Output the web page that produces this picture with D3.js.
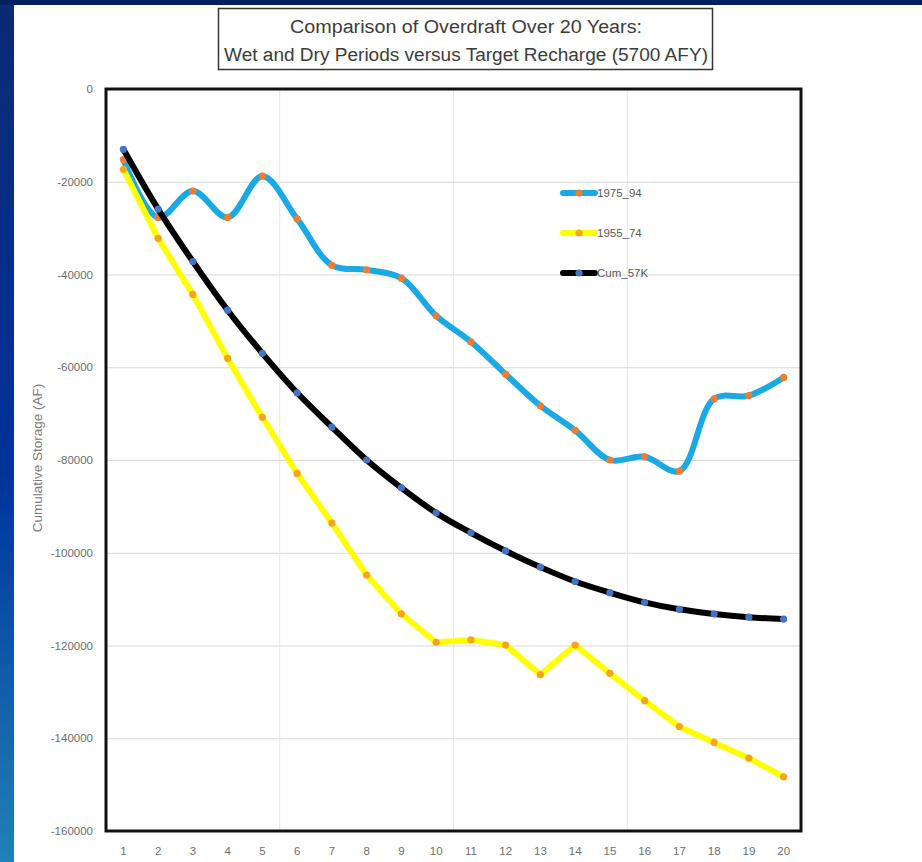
<!DOCTYPE html>
<html>
<head>
<meta charset="utf-8">
<script src="https://cdn.jsdelivr.net/npm/d3@7"></script>
<style>
  html, body { margin: 0; padding: 0; background: #ffffff; }
  svg { display: block; }
</style>
</head>
<body>
<svg id="chart" width="922" height="862"></svg>
<script>
// Years of the 20-year simulation (category axis)
const years = ["1","2","3","4","5","6","7","8","9","10","11","12","13","14","15","16","17","18","19","20"];

// Cumulative storage (AF) per year for each scenario
const wet1975_94 = [-15200, -27700, -22000, -27700, -18800, -28000, -38000, -39000, -40800, -48900,
                    -54500, -61500, -68300, -73600, -80000, -79300, -82400, -66800, -66100, -62200];
const dry1955_74 = [-17300, -32200, -44300, -58100, -70800, -82900, -93600, -104800, -113200, -119300,
                    -118800, -119900, -126300, -119900, -126000, -131900, -137500, -140900, -144300, -148300];
const cum57K     = [-13000, -25900, -37200, -47700, -57000, -65500, -72900, -80000, -86000, -91400,
                    -95700, -99600, -103100, -106200, -108600, -110700, -112200, -113200, -113900, -114300];

const seriesNames = ["1975_94", "1955_74", "Cum_57K"];
const yTicks = [0, -20000, -40000, -60000, -80000, -100000, -120000, -140000, -160000];
const xGridYears = ["6", "11", "16"];

const titleLines = ["Comparison of Overdraft Over 20 Years:",
                    "Wet and Dry Periods versus Target Recharge (5700 AFY)"];
const yTitle = "Cumulative Storage (AF)";

const series = [
  { name: seriesNames[0], values: wet1975_94, line: "#1aa9e4", marker: "#ed7d31", curve: d3.curveCatmullRom.alpha(0.5) },
  { name: seriesNames[1], values: dry1955_74, line: "#ffff00", marker: "#f4a51c", curve: d3.curveLinear },
  { name: seriesNames[2], values: cum57K,     line: "#000000", marker: "#4472c4", curve: d3.curveCatmullRom.alpha(0.5) }
];

const svg = d3.select("#chart");
const W = 922, H = 862;
const plot = { left: 106, right: 801, top: 89, bottom: 831 };
const FONT = "'Liberation Sans', Arial, sans-serif";

// Slide background: navy header band and blue gradient strip on the left
const defs = svg.append("defs");
const grad = defs.append("linearGradient").attr("id", "sideGrad")
  .attr("x1", 0).attr("y1", 0).attr("x2", 0).attr("y2", 1);
grad.append("stop").attr("offset", "0%").attr("stop-color", "#0b2a74");
grad.append("stop").attr("offset", "55%").attr("stop-color", "#00329c");
grad.append("stop").attr("offset", "100%").attr("stop-color", "#1f82b8");

svg.append("rect").attr("x", 0).attr("y", 0).attr("width", W).attr("height", H).attr("fill", "#ffffff");
svg.append("rect").attr("x", 0).attr("y", 0).attr("width", 14).attr("height", H).attr("fill", "url(#sideGrad)");
svg.append("rect").attr("x", 0).attr("y", 0).attr("width", W).attr("height", 5).attr("fill", "#032060");

// Scales
const x = d3.scaleBand().domain(years).range([plot.left, plot.right]).paddingInner(0).paddingOuter(0);
const cx = d => x(d) + x.bandwidth() / 2;
const y = d3.scaleLinear().domain([-160000, 0]).range([plot.bottom, plot.top]);

// Horizontal gridlines
svg.append("g")
  .attr("transform", `translate(${plot.left},0)`)
  .call(d3.axisLeft(y).tickValues(yTicks).tickSize(-(plot.right - plot.left)).tickFormat(""))
  .call(g => g.select(".domain").remove())
  .call(g => g.selectAll("line").attr("stroke", "#d9d9d9").attr("stroke-width", 1));

// Vertical gridlines every five years
svg.append("g").selectAll("line").data(xGridYears).join("line")
  .attr("x1", d => x(d)).attr("x2", d => x(d))
  .attr("y1", plot.top).attr("y2", plot.bottom)
  .attr("stroke", "#e6e6e6").attr("stroke-width", 1);

// Y tick labels (plain hyphen for negatives)
svg.append("g")
  .attr("transform", `translate(${plot.left - 13},0)`)
  .call(d3.axisLeft(y).tickValues(yTicks).tickSize(0).tickPadding(0).tickFormat(d => String(d)))
  .call(g => g.select(".domain").remove())
  .call(g => g.selectAll("text")
    .attr("fill", "#6e6e6e")
    .attr("font-family", FONT)
    .attr("font-size", 11.5));

// X tick labels
svg.append("g")
  .attr("transform", `translate(0,${plot.bottom + 16})`)
  .call(d3.axisBottom(x).tickSize(0).tickPadding(0))
  .call(g => g.select(".domain").remove())
  .call(g => g.selectAll("text")
    .attr("fill", "#6e6e6e")
    .attr("font-family", FONT)
    .attr("font-size", 11.5));

// Y axis title
svg.append("text")
  .attr("transform", `translate(42,${(plot.top + plot.bottom) / 2 - 2}) rotate(-90)`)
  .attr("text-anchor", "middle")
  .attr("fill", "#7a7a7a")
  .attr("font-family", FONT)
  .attr("font-size", 13.5)
  .text(yTitle);

// Series lines and markers
const lineGen = s => d3.line()
  .x((v, i) => cx(years[i]))
  .y(v => y(v))
  .curve(s.curve);

const gSeries = svg.append("g");
series.forEach(s => {
  gSeries.append("path")
    .attr("d", lineGen(s)(s.values))
    .attr("fill", "none")
    .attr("stroke", s.line)
    .attr("stroke-width", 6)
    .attr("stroke-linejoin", "round")
    .attr("stroke-linecap", "round");
  gSeries.append("g").selectAll("circle").data(s.values).join("circle")
    .attr("cx", (v, i) => cx(years[i]))
    .attr("cy", v => y(v))
    .attr("r", 3.6)
    .attr("fill", s.marker);
});

// Plot frame
svg.append("rect")
  .attr("x", plot.left).attr("y", plot.top)
  .attr("width", plot.right - plot.left).attr("height", plot.bottom - plot.top)
  .attr("fill", "none").attr("stroke", "#111111").attr("stroke-width", 3);

// Legend inside the plot area
const legend = svg.append("g").attr("transform", "translate(563,193)");
series.forEach((s, i) => {
  const row = legend.append("g").attr("transform", `translate(0,${i * 40})`);
  row.append("line").attr("x1", 0).attr("x2", 32).attr("y1", 0).attr("y2", 0)
    .attr("stroke", s.line).attr("stroke-width", 6).attr("stroke-linecap", "round");
  row.append("circle").attr("cx", 16).attr("cy", 0).attr("r", 3.6).attr("fill", s.marker);
  row.append("text").attr("x", 34).attr("y", 4)
    .attr("fill", "#595959")
    .attr("font-family", FONT)
    .attr("font-size", 11.5)
    .text(s.name);
});

// Title box
svg.append("rect")
  .attr("x", 218.5).attr("y", 8.5).attr("width", 494).attr("height", 61)
  .attr("fill", "#ffffff").attr("stroke", "#333333").attr("stroke-width", 1.5);
const titleWidths = [352, 484];
titleLines.forEach((t, i) => {
  svg.append("text")
    .attr("x", 466).attr("y", 33 + i * 28)
    .attr("text-anchor", "middle")
    .attr("fill", "#3c3c3c")
    .attr("font-family", FONT)
    .attr("font-size", 18)
    .attr("textLength", titleWidths[i])
    .attr("lengthAdjust", "spacingAndGlyphs")
    .text(t);
});
</script>
</body>
</html>
